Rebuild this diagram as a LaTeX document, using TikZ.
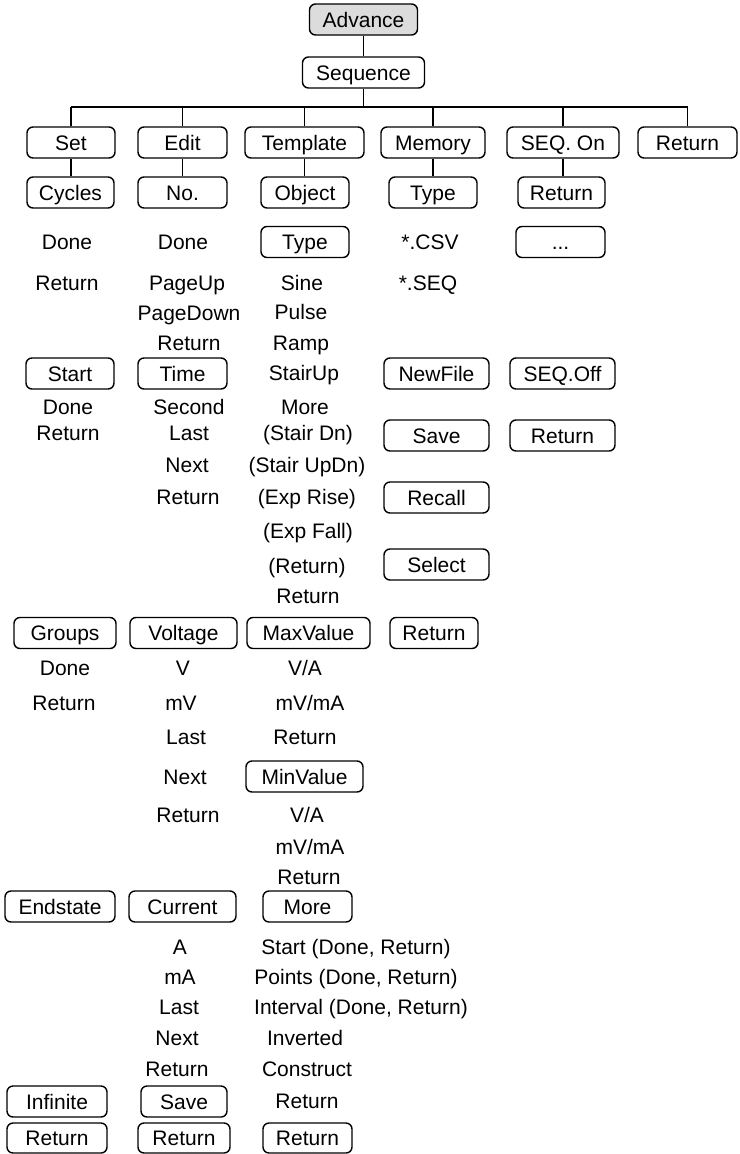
\documentclass[tikz,border=0pt]{standalone}
\usepackage{fontspec}
\setmainfont{Liberation Sans}
\definecolor{advgray}{HTML}{DCDCDC}
\tikzset{
  base/.style={font=\fontsize{21}{25}\selectfont, text height=15pt, text depth=0pt, inner sep=0pt},
  box/.style={base, draw, line width=1.4pt, rounded corners=6pt, minimum height=31pt},
  lbl/.style={base},
  conn/.style={line width=1.5pt}
}
\begin{document}
\begin{tikzpicture}[x=1pt,y=-1pt]
\useasboundingbox (0,0) rectangle (739,1154);
% top
\node[box, fill=advgray, minimum width=108pt] (adv) at (363.5,19.5) {Advance};
\node[box, minimum width=122pt] (seq) at (363.5,72.5) {Sequence};
% row 1
\node[box, minimum width=88pt]  (set)   at (71,142.5)  {Set};
\node[box, minimum width=89pt]  (edit)  at (182.5,142.5) {Edit};
\node[box, minimum width=119pt] (templ) at (304.5,142.5) {Template};
\node[box, minimum width=104pt] (mem)   at (433,142.5) {Memory};
\node[box, minimum width=112pt] (seqon) at (563,142.5) {SEQ. On};
\node[box, minimum width=99pt]  (ret0)  at (687.5,142.5) {Return};
% row 2
\node[box, minimum width=87pt] (cycles) at (70.5,192.5) {Cycles};
\node[box, minimum width=89pt] (no)     at (182.5,192.5) {No.};
\node[box, minimum width=88pt] (object) at (305,192.5) {Object};
\node[box, minimum width=88pt] (type)   at (433,192.5) {Type};
\node[box, minimum width=87pt] (ret1)   at (561.5,192.5) {Return};
% row 3
\node[box, minimum width=88pt] (type2) at (305,242) {Type};
\node[box, minimum width=89pt] (dots)  at (560.5,242) {...};
% column 1 texts
\node[lbl] (c1a) at (67,242) {Done};
\node[lbl] (c1b) at (67,283) {Return};
\node[box, minimum width=88pt] (start) at (70,373.5) {Start};
\node[lbl] (c1c) at (68,407) {Done};
\node[lbl] (c1d) at (68,433) {Return};
\node[box, minimum width=102pt] (groups) at (65,633) {Groups};
\node[lbl] (c1e) at (65,668) {Done};
\node[lbl] (c1f) at (64,703) {Return};
\node[box, minimum width=110pt] (endstate) at (60,906.5) {Endstate};
\node[box, minimum width=100pt] (infinite) at (57,1101.5) {Infinite};
\node[box, minimum width=100pt, minimum height=30pt] (retA) at (57,1138) {Return};
% column 2 texts
\node[lbl] (c2a) at (183,242) {Done};
\node[lbl] (c2b) at (187,283) {PageUp};
\node[lbl] (c2c) at (189,313) {PageDown};
\node[lbl] (c2d) at (189,343) {Return};
\node[box, minimum width=89pt] (time) at (182.5,373.5) {Time};
\node[lbl] (c2e) at (189,407) {Second};
\node[lbl] (c2f) at (189,433) {Last};
\node[lbl] (c2g) at (187,465) {Next};
\node[lbl] (c2h) at (188,497) {Return};
\node[box, minimum width=107pt] (voltage) at (183.5,633) {Voltage};
\node[lbl] (c2i) at (183,668) {V};
\node[lbl] (c2j) at (181,703) {mV};
\node[lbl] (c2k) at (186,737) {Last};
\node[lbl] (c2l) at (185,777) {Next};
\node[lbl] (c2m) at (188,815) {Return};
\node[box, minimum width=107pt] (current) at (182.5,906.5) {Current};
\node[lbl] (c2n) at (180,947) {A};
\node[lbl] (c2o) at (180,977) {mA};
\node[lbl] (c2p) at (179,1007) {Last};
\node[lbl] (c2q) at (177,1038) {Next};
\node[lbl] (c2r) at (177,1069) {Return};
\node[box, minimum width=86pt] (save2) at (184,1101.5) {Save};
\node[box, minimum width=92pt, minimum height=30pt] (retB) at (184,1138) {Return};
% column 3 texts
\node[lbl] (c3a) at (302,283) {Sine};
\node[lbl] (c3b) at (301,312) {Pulse};
\node[lbl] (c3c) at (301,343) {Ramp};
\node[lbl] (c3d) at (304,373) {StairUp};
\node[lbl] (c3e) at (305,407) {More};
\node[lbl] (c3f) at (308,433) {(Stair Dn)};
\node[lbl] (c3g) at (307,465) {(Stair UpDn)};
\node[lbl] (c3h) at (307,497) {(Exp Rise)};
\node[lbl] (c3i) at (308,531) {(Exp Fall)};
\node[lbl] (c3j) at (307,566) {(Return)};
\node[lbl] (c3k) at (308,596) {Return};
\node[box, minimum width=123pt] (maxv) at (308.5,633) {MaxValue};
\node[lbl] (c3l) at (305,668) {V/A};
\node[lbl] (c3m) at (310,703) {mV/mA};
\node[lbl] (c3n) at (305,737) {Return};
\node[box, minimum width=117pt] (minv) at (304.5,776.5) {MinValue};
\node[lbl] (c3o) at (307,815) {V/A};
\node[lbl] (c3p) at (310,847) {mV/mA};
\node[lbl] (c3q) at (309,877) {Return};
\node[box, minimum width=89pt] (more) at (307.5,906.5) {More};
\node[lbl] (c3r) at (356,947) {Start (Done, Return)};
\node[lbl] (c3s) at (356,977) {Points (Done, Return)};
\node[lbl] (c3t) at (361,1007) {Interval (Done, Return)};
\node[lbl] (c3u) at (305,1038) {Inverted};
\node[lbl] (c3v) at (307,1069) {Construct};
\node[lbl] (c3w) at (307,1101) {Return};
\node[box, minimum width=89pt, minimum height=30pt] (retC) at (307.5,1138) {Return};
% column 4
\node[lbl] (c4a) at (430,242) {*.CSV};
\node[lbl] (c4b) at (428,283) {*.SEQ};
\node[box, minimum width=105pt] (newfile) at (436.5,373.5) {NewFile};
\node[box, minimum width=105pt] (save1)   at (436.5,435.5) {Save};
\node[box, minimum width=105pt] (recall)  at (436.5,497.5) {Recall};
\node[box, minimum width=105pt] (select)  at (436.5,564.5) {Select};
\node[box, minimum width=88pt]  (ret3)    at (434,633) {Return};
% column 5
\node[box, minimum width=105pt] (seqoff) at (562.5,373.5) {SEQ.Off};
\node[box, minimum width=105pt] (ret2)   at (562.5,435.5) {Return};
% connectors
\coordinate (bus) at (0,107);
\draw[conn] (adv.south) -- (adv.south |- seq.north);
\draw[conn] (seq.south) -- (seq.south |- bus);
\draw[conn] (set.north |- bus) -- (ret0.north |- bus);
\foreach \n in {set,edit,templ,mem,seqon,ret0}{
  \draw[conn] (\n.north) -- (\n.north |- bus);
}
\draw[conn] (set.south) -- (set.south |- cycles.north);
\draw[conn] (edit.south) -- (edit.south |- no.north);
\draw[conn] (templ.south) -- (templ.south |- object.north);
\draw[conn] (mem.south) -- (mem.south |- type.north);
\draw[conn] (seqon.south) -- (seqon.south |- ret1.north);
\end{tikzpicture}
\end{document}
